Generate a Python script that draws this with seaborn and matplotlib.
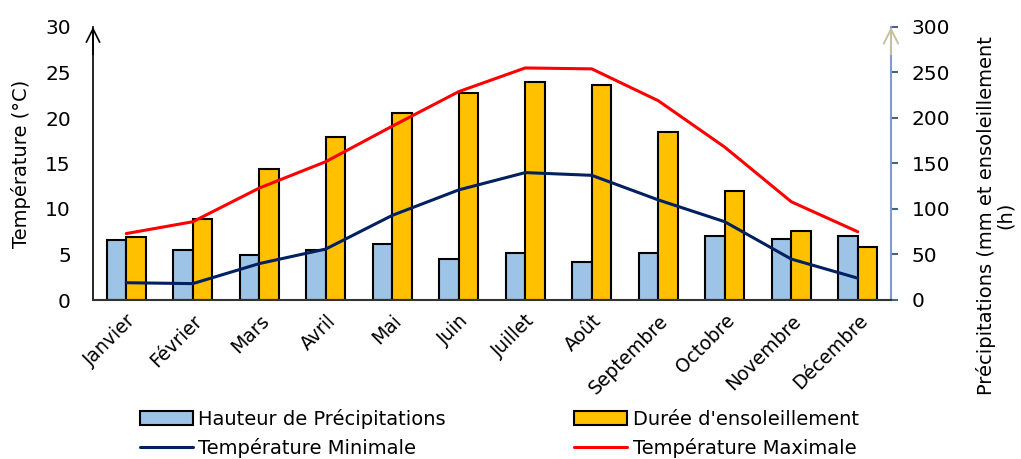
import pandas as pd
import seaborn as sns
import matplotlib
matplotlib.use("Agg")
import matplotlib.pyplot as plt

# Données climatiques mensuelles
mois = ["Janvier", "Février", "Mars", "Avril", "Mai", "Juin", "Juillet",
        "Août", "Septembre", "Octobre", "Novembre", "Décembre"]
precipitations = [66, 55, 49, 55, 62, 45, 52, 42, 52, 70, 67, 70]
ensoleillement = [69, 89, 144, 179, 205, 228, 240, 236, 185, 120, 76, 58]
temp_min = [1.9, 1.8, 4.0, 5.6, 9.3, 12.1, 14.0, 13.7, 11.0, 8.6, 4.5, 2.4]
temp_max = [7.3, 8.6, 12.3, 15.2, 19.1, 22.9, 25.5, 25.4, 21.9, 16.8, 10.8, 7.5]

lab_p = "Hauteur de Précipitations"
lab_s = "Durée d'ensoleillement"
lab_min = "Température Minimale"
lab_max = "Température Maximale"

df_barres = pd.DataFrame({
    "Mois": mois * 2,
    "valeur": precipitations + ensoleillement,
    "serie": [lab_p] * 12 + [lab_s] * 12,
})
df_temp = pd.DataFrame({
    "Mois": mois * 2,
    "temp": temp_min + temp_max,
    "serie": [lab_min] * 12 + [lab_max] * 12,
})

sns.set_style("white")
plt.rcParams["font.family"] = ["DejaVu Sans"]
plt.rcParams["text.color"] = "black"
plt.rcParams["axes.labelcolor"] = "black"
plt.rcParams["xtick.color"] = "black"
plt.rcParams["ytick.color"] = "black"

fig = plt.figure(figsize=(10.21, 4.59), dpi=100)
ax = fig.add_axes([93 / 1021, 159 / 459, 798 / 1021, 273 / 459])
ax2 = ax.twinx()

# barres sur l'axe de droite
sns.barplot(data=df_barres, x="Mois", y="valeur", hue="serie", ax=ax2,
            palette={lab_p: "#9dc3e6", lab_s: "#ffc000"},
            width=0.58, gap=0, edgecolor="black", linewidth=1.5,
            saturation=1, errorbar=None)

# courbes de température sur l'axe de gauche
sns.pointplot(data=df_temp, x="Mois", y="temp", hue="serie", ax=ax,
              palette={lab_min: "#002060", lab_max: "#ff0000"},
              markers="", linewidth=2.2, errorbar=None)

ax.set_zorder(ax2.get_zorder() + 1)
ax.patch.set_visible(False)

ax.set_ylim(0, 30)
ax2.set_ylim(0, 300)
ax.set_xlim(-0.5, 11.5)
ax.set_yticks(range(0, 31, 5))
ax2.set_yticks(range(0, 301, 50))

ax.set_xlabel("")
ax2.set_xlabel("")
ax.set_ylabel("Température (°C)", fontsize=14)
ax.yaxis.set_label_coords(-0.078, 0.5)
ax2.set_ylabel("Précipitations (mm et ensoleillement\n(h)", fontsize=14,
               linespacing=1.0)
ax2.yaxis.set_label_coords(1.106, 0.31)

ax.tick_params(axis="y", length=0, pad=16, labelsize=14.5)
ax2.tick_params(axis="y", length=5, width=1.5, color="#44618f", pad=10,
                labelsize=14.5, direction="out", labelcolor="black")
ax.tick_params(axis="x", length=0, labelsize=13.5, pad=8)
plt.setp(ax.get_xticklabels(), rotation=45, ha="right", rotation_mode="anchor")
ax2.tick_params(axis="x", length=0)

for a in (ax, ax2):
    a.spines["top"].set_visible(False)
ax.spines["right"].set_visible(False)
ax2.spines["left"].set_visible(False)
ax2.spines["bottom"].set_visible(False)
ax.spines["left"].set_color("black")
ax.spines["left"].set_linewidth(1.2)
ax.spines["bottom"].set_color("#333333")
ax.spines["bottom"].set_linewidth(1.5)
ax2.spines["right"].set_color("#7f9bc8")
ax2.spines["right"].set_linewidth(1.5)

# flèches en haut des axes
ax.annotate("", xy=(0, 1.0), xytext=(0, 0.9), xycoords="axes fraction",
            arrowprops=dict(arrowstyle="->", lw=1.2, color="black",
                            mutation_scale=24, shrinkA=0, shrinkB=0))
ax.annotate("", xy=(1, 1.0), xytext=(1, 0.9), xycoords="axes fraction",
            arrowprops=dict(arrowstyle="->", lw=1.4, color="#c9c0a0",
                            mutation_scale=26, shrinkA=0, shrinkB=0))

# légende commune
h1, l1 = ax2.get_legend_handles_labels()
h2, l2 = ax.get_legend_handles_labels()
ax.get_legend().remove()
ax2.get_legend().remove()
handles = [h1[0], h2[0], h1[1], h2[1]]
labels = [l1[0], l2[0], l1[1], l2[1]]
fig.legend(handles, labels, ncol=2, frameon=False, fontsize=14,
           loc="upper left", bbox_to_anchor=(140 / 1021, 1 - 409 / 459),
           handlelength=2.7, handletextpad=0.3, columnspacing=6.6,
           labelspacing=0.45, borderaxespad=0, borderpad=0)

fig.savefig("out.png", dpi=100)
